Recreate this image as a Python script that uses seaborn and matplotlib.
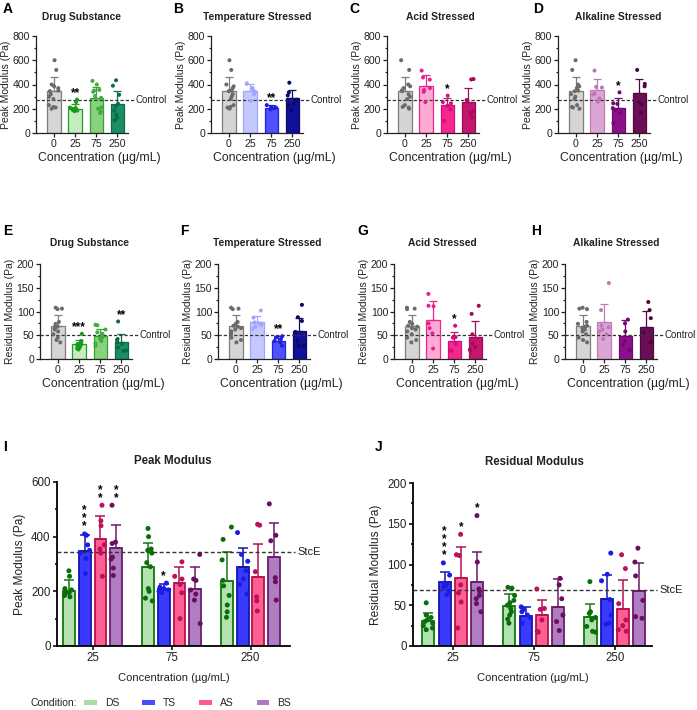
import numpy as np
import pandas as pd
import matplotlib
matplotlib.use("Agg")
import matplotlib.pyplot as plt
import matplotlib.transforms as mtrans
from matplotlib.patches import Patch
from matplotlib.ticker import MultipleLocator
import seaborn as sns

sns.set_theme(style="ticks")
plt.rcParams['font.family'] = ['Liberation Sans', 'DejaVu Sans']
np.random.seed(3)

# ---------------- data ----------------
conc_all = ["0", "25", "75", "250"]
conc_stress = ["25", "75", "250"]
conditions = ["DS", "TS", "AS", "BS"]
panel_titles = ["Drug Substance", "Temperature Stressed", "Acid Stressed", "Alkaline Stressed"]

# Peak modulus (Pa)
peak_ctrl_pts = [600, 520, 400, 385, 370, 350, 345, 320, 300, 280, 230, 215, 210, 200]
peak_ctrl_mean = 345
peak_ctrl_sd = 120
peak_DS_pts = [[275, 255, 210, 205, 200, 195, 190, 185, 180],
               [430, 400, 355, 350, 340, 305, 290, 210, 200, 175, 165],
               [435, 390, 315, 240, 220, 185, 150, 125, 105]]
peak_TS_pts = [[410, 405, 370, 350, 340, 320, 265],
               [230, 215, 210, 205, 200, 195],
               [415, 335, 310, 275, 245, 225, 190]]
peak_AS_pts = [[515, 458, 440, 370, 355, 340, 255],
               [308, 255, 245, 225, 195, 100],
               [445, 442, 272, 180, 165, 128]]
peak_BS_pts = [[515, 380, 375, 325, 318, 285, 258],
               [335, 245, 240, 205, 190, 168, 82],
               [520, 405, 385, 250, 235, 168]]
peak_DS_mean = [201, 288, 238]; peak_DS_sd = [40, 90, 107]
peak_TS_mean = [348, 209, 288]; peak_TS_sd = [58, 18, 69]
peak_AS_mean = [390, 231, 253]; peak_AS_sd = [87, 57, 120]
peak_BS_mean = [357, 209, 327]; peak_BS_sd = [86, 81, 122]
peak_control_line = 272
peak_stce_line = 345

# Residual modulus (Pa)
res_ctrl_pts = [108, 105, 106, 78, 74, 70, 68, 65, 62, 58, 52, 45, 40, 35]
res_ctrl_mean = 70
res_ctrl_sd = 23
res_DS_pts = [[53, 38, 35, 32, 30, 28, 25, 22, 20],
              [72, 71, 62, 56, 53, 50, 46, 42, 38, 33, 28],
              [79, 42, 40, 35, 32, 24, 18, 17]]
res_TS_pts = [[102, 87, 77, 75, 72, 68, 63],
              [48, 45, 42, 38, 35, 28],
              [114, 88, 80, 57, 38, 28, 27]]
res_AS_pts = [[137, 112, 111, 75, 65, 54, 22],
              [70, 46, 45, 32, 18, 17],
              [112, 95, 52, 32, 25, 20, 18]]
res_BS_pts = [[160, 103, 70, 67, 62, 58, 52, 42],
              [83, 75, 58, 38, 30, 19],
              [120, 103, 86, 56, 36, 34]]
res_DS_mean = [31, 49, 35]; res_DS_sd = [10, 15, 17]
res_TS_mean = [78, 37, 58]; res_TS_sd = [13, 11, 29]
res_AS_mean = [83, 38, 46]; res_AS_sd = [39, 19, 35]
res_BS_mean = [78, 48, 67]; res_BS_sd = [37, 34, 35]
res_control_line = 50
res_stce_line = 69

# significance labels
peak_stars_vs_ctrl = {"DS": ["**", "", ""], "TS": ["", "**", ""], "AS": ["", "*", ""], "BS": ["", "*", ""]}
res_stars_vs_ctrl = {"DS": ["***", "", "**"], "TS": ["", "**", ""], "AS": ["", "*", ""], "BS": ["", "", ""]}
peak_stars_vs_stce = {"DS": ["", "", ""], "TS": ["***", "*", ""], "AS": ["**", "", ""], "BS": ["**", "", ""]}
res_stars_vs_stce = {"DS": ["", "", ""], "TS": ["****", "", ""], "AS": ["*", "", ""], "BS": ["*", "", ""]}

# ---------------- styles ----------------
ctrl_fill, ctrl_edge, ctrl_pt = "#d5d5d5", "#7d7d7d", "#6b6b6b"
single_fills = {"DS": ["#c4ecc0", "#86d27f", "#1a8f63"],
                "TS": ["#c5c8ff", "#5050ff", "#10109a"],
                "AS": ["#ffaad2", "#f5278d", "#c5166d"],
                "BS": ["#dba6d6", "#8e0f8e", "#6b0e55"]}
single_edges = {"DS": ["#22a022", "#3a9e3a", "#0f6b48"],
                "TS": ["#a0a5ff", "#2222dd", "#0a0a70"],
                "AS": ["#e8288e", "#d0107a", "#a00c58"],
                "BS": ["#c07ab8", "#6f0b6f", "#4f0840"]}
single_pts = {"DS": ["#1a9a1a", "#3fae3f", "#0d6b47"],
              "TS": ["#9fa6ff", "#2020dd", "#0a0a60"],
              "AS": ["#e8208c", "#d40f7c", "#a70a5a"],
              "BS": ["#c276b6", "#6e0a6e", "#4d063e"]}
group_fill = {"DS": "#b3e2b0", "TS": "#3a3aff", "AS": "#ff5e92", "BS": "#b07cc2"}
group_edge = {"DS": "#0f7a0f", "TS": "#1515b0", "AS": "#b81050", "BS": "#6c1a6c"}
group_pt = {"DS": "#0b6e0b", "TS": "#1c1ce6", "AS": "#c0105a", "BS": "#6a0f5e"}
legend_col = {"DS": "#a8dca8", "TS": "#4a4aff", "AS": "#ff5a8c", "BS": "#b07ac0"}

W, H = 697, 710
fig = plt.figure(figsize=(W / 100, H / 100), dpi=100)
TXT = "#222222"


def px_axes(left, top, width, height):
    return fig.add_axes([left / W, 1 - (top + height) / H, width / W, height / H])


def ftext(x, y, s, **kw):
    fig.text(x / W, 1 - y / H, s, **kw)


def style_axes(ax, ylim, major, minor, fs, lw, pad=1.5):
    ax.set_ylim(*ylim)
    ax.yaxis.set_major_locator(MultipleLocator(major))
    ax.yaxis.set_minor_locator(MultipleLocator(minor))
    sns.despine(ax=ax)
    for sp in ("left", "bottom"):
        ax.spines[sp].set_linewidth(lw)
        ax.spines[sp].set_color(TXT)
    ax.tick_params(axis="both", which="major", length=3, width=lw, labelsize=fs,
                   colors=TXT, pad=pad)
    ax.tick_params(axis="y", which="minor", length=1.8, width=lw, colors=TXT)
    ax.tick_params(axis="x", which="minor", length=0)


peak_pts = {"DS": peak_DS_pts, "TS": peak_TS_pts, "AS": peak_AS_pts, "BS": peak_BS_pts}
peak_mean = {"DS": peak_DS_mean, "TS": peak_TS_mean, "AS": peak_AS_mean, "BS": peak_BS_mean}
peak_sd = {"DS": peak_DS_sd, "TS": peak_TS_sd, "AS": peak_AS_sd, "BS": peak_BS_sd}
res_pts = {"DS": res_DS_pts, "TS": res_TS_pts, "AS": res_AS_pts, "BS": res_BS_pts}
res_mean = {"DS": res_DS_mean, "TS": res_TS_mean, "AS": res_AS_mean, "BS": res_BS_mean}
res_sd = {"DS": res_DS_sd, "TS": res_TS_sd, "AS": res_AS_sd, "BS": res_BS_sd}


def single_panel(rect, cond, ctrl_pts, ctrl_mean, ctrl_sd, pts, means, sds, stars,
                 ylim, major, minor, ctrl_line, ylabel):
    ax = px_axes(*rect)
    fills = [ctrl_fill] + single_fills[cond]
    edges = [ctrl_edge] + single_edges[cond]
    pcols = [ctrl_pt] + single_pts[cond]
    bar_means = [ctrl_mean] + list(means)
    bar_sds = [ctrl_sd] + list(sds)
    sns.barplot(x=conc_all, y=bar_means, hue=conc_all, order=conc_all, hue_order=conc_all,
                palette=fills, saturation=1, width=0.64, errorbar=None, legend=False,
                linewidth=0.9, ax=ax, zorder=2)
    all_pts = [ctrl_pts] + list(pts)
    tops = []
    for cont, ec, sd, p in zip(ax.containers, edges, bar_sds, all_pts):
        for bar in cont:
            bar.set_edgecolor(ec)
            xc = bar.get_x() + bar.get_width() / 2
            ax.errorbar(xc, bar.get_height(), yerr=[[0], [sd]], fmt="none", ecolor=ec,
                        elinewidth=0.9, capsize=3.2, capthick=0.9, zorder=3)
            tops.append((xc, max(max(p), bar.get_height() + sd)))
    df = pd.DataFrame({"conc": [c for c, p in zip(conc_all, all_pts) for _ in p],
                       "val": [v for p in all_pts for v in p]})
    sns.stripplot(data=df, x="conc", y="val", hue="conc", order=conc_all, hue_order=conc_all,
                  palette=pcols, jitter=0.26, size=2.9, linewidth=0, legend=False, ax=ax, zorder=4)
    for (xc, top), st in zip(tops[1:], stars):
        if st:
            ax.annotate(st, (xc, top), xytext=(0, 0.5), textcoords="offset points",
                        ha="center", va="bottom", fontsize=8.5, fontweight="bold", color="black")
    ax.axhline(ctrl_line, xmin=0, xmax=1.06, clip_on=False, color="#333333", lw=0.9,
               ls=(0, (2.6, 1.6)), zorder=3.5)
    tr = mtrans.blended_transform_factory(ax.transAxes, ax.transData)
    ax.text(1.085, ctrl_line, "Control", transform=tr, ha="left", va="center",
            fontsize=7, color=TXT)
    ax.set_xlim(-0.85, 3.5)
    style_axes(ax, ylim, major, minor, 7.6, 0.9, pad=1.2)
    ax.set_xlabel("Concentration (\u00b5g/mL)", fontsize=8.8, color=TXT, labelpad=2, loc="left")
    ax.xaxis.label.set_x(0.02)
    ax.set_ylabel(ylabel, fontsize=7.5, color=TXT, labelpad=1)
    return ax


row1_left = [36, 211, 387, 558]
row2_left = [40, 218, 394, 565]
row1_title_x = [82, 257, 440, 618]
row2_title_x = [89, 267, 442, 616]
row1_letter_x = [3, 173, 349, 533]
row2_letter_x = [3, 180, 357, 531]

for i, cond in enumerate(conditions):
    single_panel((row1_left[i], 36, 92, 97), cond, peak_ctrl_pts, peak_ctrl_mean, peak_ctrl_sd,
                 peak_pts[cond], peak_mean[cond], peak_sd[cond], peak_stars_vs_ctrl[cond],
                 (0, 800), 200, 100, peak_control_line, "Peak Modulus (Pa)")
    ftext(row1_title_x[i], 17, panel_titles[i], ha="center", va="center", fontsize=7.4,
          fontweight="bold", color=TXT)
    ftext(row1_letter_x[i], 9, "ABCD"[i], ha="left", va="center", fontsize=10,
          fontweight="bold", color="black")
    single_panel((row2_left[i], 264, 92, 95), cond, res_ctrl_pts, res_ctrl_mean, res_ctrl_sd,
                 res_pts[cond], res_mean[cond], res_sd[cond], res_stars_vs_ctrl[cond],
                 (0, 200), 50, 25, res_control_line, "Residual Modulus (Pa)")
    ftext(row2_title_x[i], 243, panel_titles[i], ha="center", va="center", fontsize=7.4,
          fontweight="bold", color=TXT)
    ftext(row2_letter_x[i], 231, "EFGH"[i], ha="left", va="center", fontsize=10,
          fontweight="bold", color="black")


def group_panel(rect, pts, means, sds, stars, ylim, major, minor, ref_line, xlim, title, ylabel):
    ax = px_axes(*rect)
    dfm = pd.DataFrame({"conc": [c for _ in conditions for c in conc_stress],
                        "cond": [k for k in conditions for _ in conc_stress],
                        "mean": [m for k in conditions for m in means[k]]})
    sns.barplot(data=dfm, x="conc", y="mean", hue="cond", order=conc_stress,
                hue_order=conditions, palette=[group_fill[k] for k in conditions],
                saturation=1, width=0.8, gap=0.25, errorbar=None, legend=False,
                linewidth=1.3, ax=ax, zorder=2)
    for cont, k in zip(ax.containers, conditions):
        for j, bar in enumerate(cont):
            bar.set_edgecolor(group_edge[k])
            xc = bar.get_x() + bar.get_width() / 2
            ax.errorbar(xc, bar.get_height(), yerr=[[0], [sds[k][j]]], fmt="none",
                        ecolor=group_edge[k], elinewidth=1.1, capsize=3.4, capthick=1.1, zorder=3)
            top = max(max(pts[k][j]), bar.get_height() + sds[k][j])
            st = stars[k][j]
            if st:
                ax.annotate("\n".join(st), (xc, top), xytext=(0, 1), textcoords="offset points",
                            ha="center", va="bottom", fontsize=8.5, fontweight="bold",
                            linespacing=0.55, color="black")
    dfp = pd.DataFrame({"conc": [c for k in conditions for c, p in zip(conc_stress, pts[k]) for _ in p],
                        "cond": [k for k in conditions for p in pts[k] for _ in p],
                        "val": [v for k in conditions for p in pts[k] for v in p]})
    sns.stripplot(data=dfp, x="conc", y="val", hue="cond", order=conc_stress,
                  hue_order=conditions, palette=[group_pt[k] for k in conditions],
                  dodge=True, jitter=0.26, size=3.6, linewidth=0, legend=False, ax=ax, zorder=4)
    ax.axhline(ref_line, xmin=0, xmax=1.02, clip_on=False, color="#333333", lw=1.0,
               ls=(0, (2.8, 1.8)), zorder=3.5)
    tr = mtrans.blended_transform_factory(ax.transAxes, ax.transData)
    ax.text(1.03, ref_line, "StcE", transform=tr, ha="left", va="center",
            fontsize=8, color=TXT)
    ax.set_xlim(*xlim)
    style_axes(ax, ylim, major, minor, 8.3, 1.3)
    ax.spines["left"].set_color("black")
    ax.spines["bottom"].set_color("black")
    ax.set_xlabel("Concentration (\u00b5g/mL)", fontsize=8, color=TXT, labelpad=6)
    ax.set_ylabel(ylabel, fontsize=8.6, color=TXT, labelpad=4)
    return ax


group_panel((57, 482, 233, 164), peak_pts, peak_mean, peak_sd, peak_stars_vs_stce,
            (0, 600), 200, 100, peak_stce_line, (-0.45, 2.5), "Peak Modulus", "Peak Modulus (Pa)")
group_panel((413, 483, 239, 163), res_pts, res_mean, res_sd, res_stars_vs_stce,
            (0, 200), 50, 25, res_stce_line, (-0.49, 2.46), "Residual Modulus", "Residual Modulus (Pa)")
ftext(173, 461, "Peak Modulus", ha="center", va="center", fontsize=8.3, fontweight="bold", color=TXT)
ftext(534, 462, "Residual Modulus", ha="center", va="center", fontsize=8.3, fontweight="bold", color=TXT)
ftext(3, 447, "I", ha="left", va="center", fontsize=10, fontweight="bold", color="black")
ftext(375, 447, "J", ha="left", va="center", fontsize=10, fontweight="bold", color="black")

# legend
ftext(30, 703, "Condition:", ha="left", va="center", fontsize=7.5, color=TXT)
handles = [Patch(facecolor=legend_col[k], edgecolor="none") for k in conditions]
fig.legend(handles, conditions, loc="center left", bbox_to_anchor=(84 / W, 1 - 703 / H),
           ncol=4, frameon=False, handlelength=1.2, handleheight=0.4, columnspacing=2.2,
           handletextpad=0.8, fontsize=7.5, borderaxespad=0, borderpad=0)

fig.savefig("out.png", dpi=100)
